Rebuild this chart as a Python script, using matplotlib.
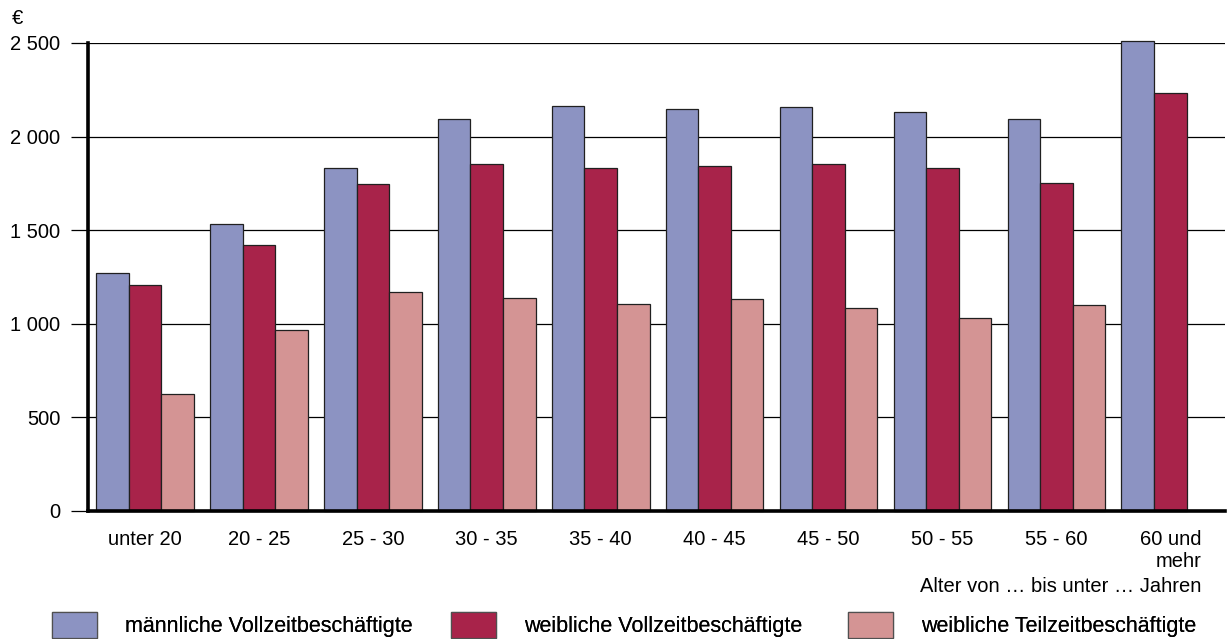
import matplotlib
matplotlib.use('Agg')
import matplotlib.pyplot as plt
import numpy as np
from matplotlib.patches import Patch

plt.rcParams['font.family'] = ['Liberation Sans', 'DejaVu Sans']

# age groups and monthly net income (EUR)
groups = ['unter 20', '20 - 25', '25 - 30', '30 - 35', '35 - 40',
          '40 - 45', '45 - 50', '50 - 55', '55 - 60', '60 und\nmehr']
male_full = [1271, 1533, 1832, 2094, 2164, 2148, 2158, 2131, 2094, 2511]
female_full = [1207, 1421, 1747, 1854, 1832, 1843, 1854, 1832, 1752, 2233]
female_part = [625, 967, 1170, 1138, 1106, 1133, 1084, 1031, 1100, np.nan]

series_names = ['männliche Vollzeitbeschäftigte',
                'weibliche Vollzeitbeschäftigte',
                'weibliche Teilzeitbeschäftigte']
colors = ['#8c93c2', '#a8234a', '#d49494']

yticks = [0, 500, 1000, 1500, 2000, 2500]
ytick_labels = ['0', '500', '1 000', '1 500', '2 000', '2 500']

fs = 14.5

fig = plt.figure(figsize=(12.3, 6.39), dpi=100)
ax = fig.add_axes([88 / 1230, 1 - 511 / 639, (1225 - 88) / 1230, (511 - 43) / 639])

x = np.arange(len(groups))
w = 0.286
for i, (vals, col) in enumerate(zip([male_full, female_full, female_part], colors)):
    ax.bar(x + (i - 1) * w, vals, width=w, color=col, edgecolor='#202020',
           linewidth=0.9, zorder=3, clip_on=False)

ax.set_xlim(-0.5, 9.48)
ax.set_ylim(0, 2500)
ax.set_yticks(yticks)
ax.set_yticklabels(ytick_labels, fontsize=fs)
ax.set_xticks(x)
ax.set_xticklabels(groups, fontsize=fs, multialignment='right')
ax.tick_params(axis='x', length=0, pad=14)
ax.tick_params(axis='y', length=12, width=0.9, pad=8, direction='out')
ax.grid(axis='y', color='black', linewidth=0.9, zorder=0)

for s in ['top', 'right']:
    ax.spines[s].set_visible(False)
ax.spines['left'].set_linewidth(2.6)
ax.spines['bottom'].set_linewidth(2.6)
ax.spines['left'].set_zorder(4)
ax.spines['bottom'].set_zorder(4)

fig.text(12 / 1230, 1 - 18 / 639, '€', fontsize=fs, ha='left', va='center')
fig.text(1201 / 1230, 1 - 586 / 639, 'Alter von … bis unter … Jahren',
         fontsize=fs, ha='right', va='center')

# one legend entry per position, as in the original layout
legend_x = [52, 451, 848]
for name, col, lx in zip(series_names, colors, legend_x):
    leg = fig.legend([Patch(facecolor=col, edgecolor='#505050', linewidth=0.9)], [name],
                     loc='upper left', bbox_to_anchor=(lx / 1230, 1 - 612 / 639),
                     frameon=False, fontsize=15.5, handlelength=2.1,
                     handleheight=1.45, handletextpad=1.3, borderpad=0,
                     borderaxespad=0)
    fig.add_artist(leg)

fig.savefig('out.png', dpi=100)
